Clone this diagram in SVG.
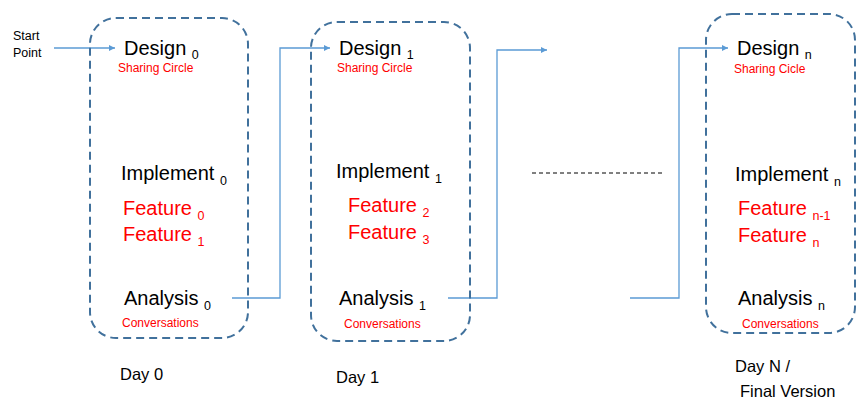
<svg xmlns="http://www.w3.org/2000/svg" width="856" height="405" viewBox="0 0 856 405">
<style>
text{font-family:"Liberation Sans",Arial,sans-serif;}
.box{fill:none;stroke:#41719C;stroke-width:2;stroke-dasharray:8 5;}
.conn{fill:none;stroke:#5B9BD5;stroke-width:1.3;}
.big{font-size:20px;fill:#000;}
.feat{font-size:20px;fill:#FF0000;}
.sub{font-size:12.5px;}
.small{font-size:12px;fill:#FF0000;}
.day{font-size:16.5px;fill:#000;}
.start{font-size:12.5px;fill:#000;}
</style>
<defs>
<marker id="arr" viewBox="0 0 10 10" refX="10" refY="5" markerWidth="6" markerHeight="6" orient="auto" markerUnits="userSpaceOnUse">
<path d="M0,0 L10,5 L0,10 z" fill="#5B9BD5"/>
</marker>
</defs>
<g id="connectors">
<line class="conn" x1="54" y1="48" x2="115" y2="48" marker-end="url(#arr)"/>
<polyline class="conn" points="232,298 280,298 280,48 330,48" marker-end="url(#arr)"/>
<polyline class="conn" points="448,298 497,298 497,50 547,50" marker-end="url(#arr)"/>
<polyline class="conn" points="630,298 679,298 679,48 728,48" marker-end="url(#arr)"/>
<line x1="532" y1="173" x2="664" y2="173" stroke="#000" stroke-width="1" stroke-dasharray="4 3"/>
</g>
<g id="start">
<text class="start" x="13" y="40">Start</text>
<text class="start" x="13" y="57">Point</text>
</g>
<g id="day0">
<rect class="box" x="90" y="18" width="158" height="320" rx="26"/>
<text class="big" x="124" y="55">Design <tspan class="sub" dy="4">0</tspan></text>
<text class="small" x="118" y="72">Sharing Circle</text>
<text class="big" x="121" y="180">Implement <tspan class="sub" dy="5">0</tspan></text>
<text class="feat" x="123" y="215">Feature <tspan class="sub" dy="5">0</tspan></text>
<text class="feat" x="123" y="241">Feature <tspan class="sub" dy="5">1</tspan></text>
<text class="big" x="124" y="305">Analysis <tspan class="sub" dy="5">0</tspan></text>
<text class="small" x="122" y="327">Conversations</text>
<text class="day" x="120" y="380">Day 0</text>
</g>
<g id="day1">
<rect class="box" x="311" y="22" width="159" height="319" rx="26"/>
<text class="big" x="339" y="55">Design <tspan class="sub" dy="4">1</tspan></text>
<text class="small" x="337" y="72">Sharing Circle</text>
<text class="big" x="336" y="178">Implement <tspan class="sub" dy="5">1</tspan></text>
<text class="feat" x="348" y="212">Feature <tspan class="sub" dy="5">2</tspan></text>
<text class="feat" x="348" y="239">Feature <tspan class="sub" dy="5">3</tspan></text>
<text class="big" x="339" y="305">Analysis <tspan class="sub" dy="5">1</tspan></text>
<text class="small" x="344" y="328">Conversations</text>
<text class="day" x="336" y="383">Day 1</text>
</g>
<g id="dayn">
<rect class="box" x="706" y="14" width="149" height="319" rx="26"/>
<text class="big" x="737" y="55">Design <tspan class="sub" dy="4">n</tspan></text>
<text class="small" x="734" y="73">Sharing Cicle</text>
<text class="big" x="735" y="181">Implement <tspan class="sub" dy="5">n</tspan></text>
<text class="feat" x="738" y="215">Feature <tspan class="sub" dy="5">n-1</tspan></text>
<text class="feat" x="738" y="242">Feature <tspan class="sub" dy="5">n</tspan></text>
<text class="big" x="738" y="305">Analysis <tspan class="sub" dy="5">n</tspan></text>
<text class="small" x="742" y="328">Conversations</text>
<text class="day" x="735" y="372">Day N /</text>
<text class="day" x="740" y="397">Final Version</text>
</g>
</svg>
